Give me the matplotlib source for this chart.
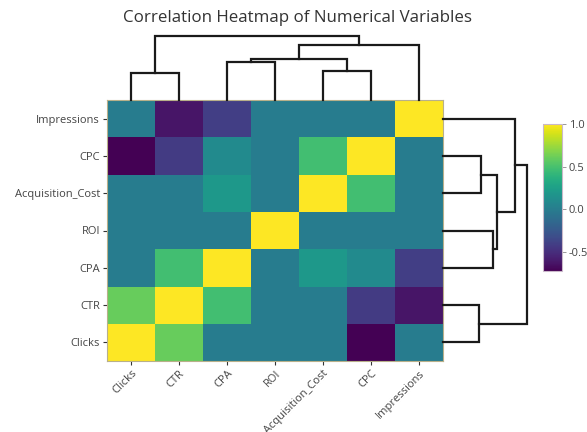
import numpy as np
import matplotlib.pyplot as plt

plt.rcParams['font.family'] = ['Open Sans', 'DejaVu Sans']

# variables in dendrogram leaf order (left to right, bottom to top)
labels = ["Clicks", "CTR", "CPA", "ROI", "Acquisition_Cost", "CPC", "Impressions"]

# correlation matrix in the same order
corr = np.array([
    [1.00, 0.60, 0.00, 0.00, 0.00, -0.72, 0.00],
    [0.60, 1.00, 0.48, 0.00, 0.00, -0.42, -0.62],
    [0.00, 0.48, 1.00, 0.00, 0.20, 0.10, -0.40],
    [0.00, 0.00, 0.00, 1.00, 0.00, 0.00, 0.00],
    [0.00, 0.00, 0.20, 0.00, 1.00, 0.48, 0.00],
    [-0.72, -0.42, 0.10, 0.00, 0.48, 1.00, 0.00],
    [0.00, -0.62, -0.40, 0.00, 0.00, 0.00, 1.00],
])

# linkage: (child a, child b, distance); new cluster ids start at len(labels)
merges = [(0, 1, 0.85), (4, 5, 0.91), (2, 3, 1.19), (9, 8, 1.28), (10, 6, 1.72), (7, 11, 2.0)]

vmin, vmax = -0.72, 1.0
line_col = "#1a1a1a"
text_col = "#444444"


def dendro_segments(n, merges):
    pos = {i: float(i) for i in range(n)}
    hgt = {i: 0.0 for i in range(n)}
    segs = []
    for k, (a, b, h) in enumerate(merges):
        segs.append(([pos[a], pos[a], pos[b], pos[b]], [hgt[a], h, h, hgt[b]]))
        pos[n + k] = (pos[a] + pos[b]) / 2
        hgt[n + k] = h
    return segs


fig = plt.figure(figsize=(5.87, 4.32), dpi=100)
W, H = 587, 432

def px_axes(x0, y0, x1, y1):
    return fig.add_axes([x0 / W, 1 - y1 / H, (x1 - x0) / W, (y1 - y0) / H])

n = len(labels)

# heatmap
ax = px_axes(107, 100, 443, 361)
im = ax.imshow(corr, cmap="viridis", vmin=vmin, vmax=vmax, origin="lower",
               aspect="auto", interpolation="nearest")
ax.set_xticks(range(n))
ax.set_xticklabels(labels, rotation=45, ha="right", rotation_mode="anchor",
                   fontsize=8, color=text_col)
ax.set_yticks(range(n))
ax.set_yticklabels(labels, fontsize=8, color=text_col)
ax.tick_params(length=3, width=0.8, color="#333333", pad=2)
for s in ax.spines.values():
    s.set_color("#b8b08a")
    s.set_linewidth(0.8)

# top dendrogram
axt = px_axes(107, 36, 443, 100)
for xs, ys in dendro_segments(n, merges):
    axt.plot(xs, ys, color=line_col, lw=1.6, clip_on=False, solid_joinstyle="miter")
axt.set_xlim(-0.5, n - 0.5)
axt.set_ylim(0, 2.0)
axt.axis("off")

# right dendrogram
axr = px_axes(443, 100, 527, 361)
for xs, ys in dendro_segments(n, merges):
    axr.plot(ys, xs, color=line_col, lw=1.6, clip_on=False, solid_joinstyle="miter")
axr.set_ylim(-0.5, n - 0.5)
axr.set_xlim(0, 2.0)
axr.axis("off")

# colorbar
cax = px_axes(543, 124, 562, 271)
cb = fig.colorbar(im, cax=cax, ticks=[-0.5, 0.0, 0.5, 1.0], format="%.1f")
cb.outline.set_edgecolor("#c9b8c9")
cb.outline.set_linewidth(0.8)
cax.tick_params(labelsize=8, labelcolor=text_col, length=3, width=0.6, color="#888888", pad=2)

fig.text(0.506, 1 - 18 / H, "Correlation Heatmap of Numerical Variables",
         ha="center", va="center", fontsize=12.2, color="#333333")

fig.savefig("out.png", dpi=100, facecolor="white")
